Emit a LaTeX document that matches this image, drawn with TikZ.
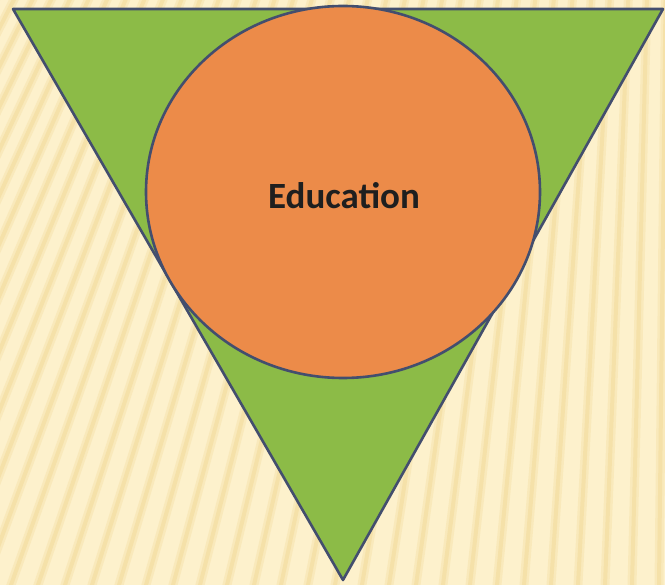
\documentclass[tikz,border=0pt]{standalone}
\usepackage{fontspec}
\setmainfont{Carlito}
\usetikzlibrary{shapes.geometric}
\definecolor{bgcream}{HTML}{FDF1CC}
\definecolor{bgstripe}{HTML}{F3DC9E}
\definecolor{trigreen}{HTML}{8CBB47}
\definecolor{circorange}{HTML}{EC8B49}
\definecolor{edgeblue}{HTML}{434E6E}
\begin{document}
\begin{tikzpicture}[x=1pt,y=-1pt,
  shapeedge/.style={draw=edgeblue,line width=2.6pt,line join=round},
  stripewide/.style={draw=bgstripe,line width=9pt,opacity=0.35},
  stripe/.style={draw=bgstripe,line width=4pt,opacity=0.6}]
\useasboundingbox (0,0) rectangle (665,585);
\fill[bgcream] (0,0) rectangle (665,585);
\begin{scope}
\clip (0,0) rectangle (665,585);
\foreach \i in {0,...,40}{
  \pgfmathsetmacro{\xb}{-340+\i*27}
  \draw[stripewide] (680,-1300) -- ({680+(\xb-680)*1.05},{-1300+1885*1.05});
  \draw[stripe] (680,-1300) -- ({680+(\xb-680)*1.05},{-1300+1885*1.05});
}
\end{scope}
\coordinate (tl) at (13,9);
\coordinate (tr) at (663,9);
\coordinate (bt) at (343,580);
\path[fill=trigreen,shapeedge] (tl) -- (tr) -- (bt) -- cycle;
\node[ellipse,minimum width=394pt,minimum height=372pt,fill=circorange,shapeedge,inner sep=0pt] (edu) at (343,192) {};
\node[font=\bfseries\fontsize{37}{40}\selectfont,text=black!88] at (344,196) {Education};
\end{tikzpicture}
\end{document}
